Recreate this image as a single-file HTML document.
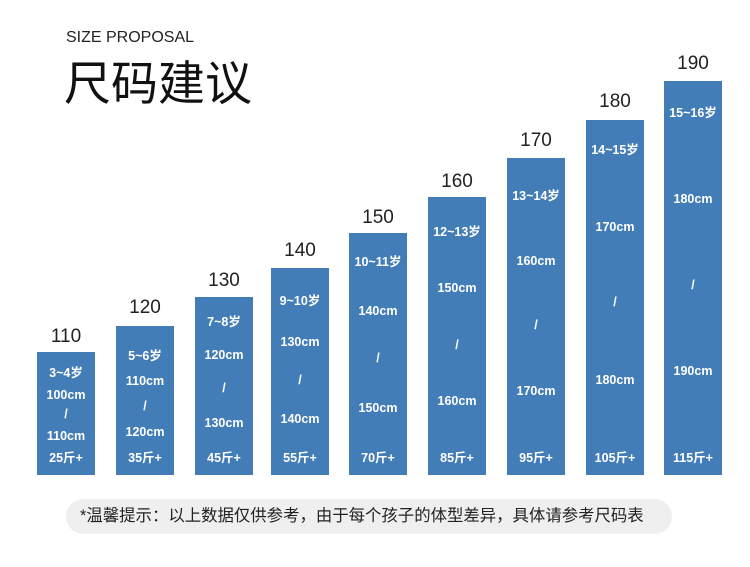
<!DOCTYPE html>
<html><head><meta charset="utf-8"><style>
body{margin:0;width:750px;height:567px;background:#fff;position:relative;overflow:hidden;font-family:"Liberation Sans","Noto Sans CJK SC",sans-serif}
.b{position:absolute;background:#437db8;bottom:92px;width:58px}
.t{position:absolute;color:#fff;font-size:12.5px;font-weight:bold;width:58px;text-align:center;line-height:14px;margin-top:-7px;white-space:nowrap}
.n{position:absolute;color:#222;font-size:19px;width:58px;text-align:center;line-height:20px;margin-top:-10px}
</style></head><body>
<div style="position:absolute;left:66px;top:29px;font-size:16px;color:#222;line-height:18px">SIZE PROPOSAL</div>
<div style="position:absolute;left:64px;top:52px;font-size:47px;color:#111;line-height:56px;font-family:'Noto Sans CJK SC',sans-serif;font-weight:400">尺码建议</div>
<div style="position:absolute;left:66px;top:499px;width:606px;height:35px;border-radius:18px;background:#efeff0"></div>
<div style="position:absolute;left:80px;top:506px;font-size:16.4px;line-height:20px;color:#222;white-space:nowrap">*温馨提示：以上数据仅供参考，由于每个孩子的体型差异，具体请参考尺码表</div>
<div id="c"></div>
<script>
var d=[[37,352,337,"110",[373,395,414,436,458],["3~4岁","100cm","/","110cm","25斤+"]],
[116,326,308,"120",[356,381,406,432,458],["5~6岁","110cm","/","120cm","35斤+"]],
[195,297,281,"130",[322,355,388,423,458],["7~8岁","120cm","/","130cm","45斤+"]],
[271,268,251,"140",[301,342,380,419,458],["9~10岁","130cm","/","140cm","55斤+"]],
[349,233,218,"150",[262,311,358,408,458],["10~11岁","140cm","/","150cm","70斤+"]],
[428,197,182,"160",[232,288,345,401,458],["12~13岁","150cm","/","160cm","85斤+"]],
[507,158,141,"170",[196,261,325,391,458],["13~14岁","160cm","/","170cm","95斤+"]],
[586,120,102,"180",[150,227,302,380,458],["14~15岁","170cm","/","180cm","105斤+"]],
[664,81,64,"190",[113,199,285,371,458],["15~16岁","180cm","/","190cm","115斤+"]]];
var h="";
d.forEach(function(r){
h+='<div class="b" style="left:'+r[0]+'px;top:'+r[1]+'px"></div>';
h+='<div class="n" style="left:'+r[0]+'px;top:'+r[2]+'px">'+r[3]+'</div>';
for(var i=0;i<5;i++)h+='<div class="t" style="left:'+r[0]+'px;top:'+r[4][i]+'px">'+r[5][i]+'</div>';
});
document.getElementById("c").innerHTML=h;
</script>
</body></html>
